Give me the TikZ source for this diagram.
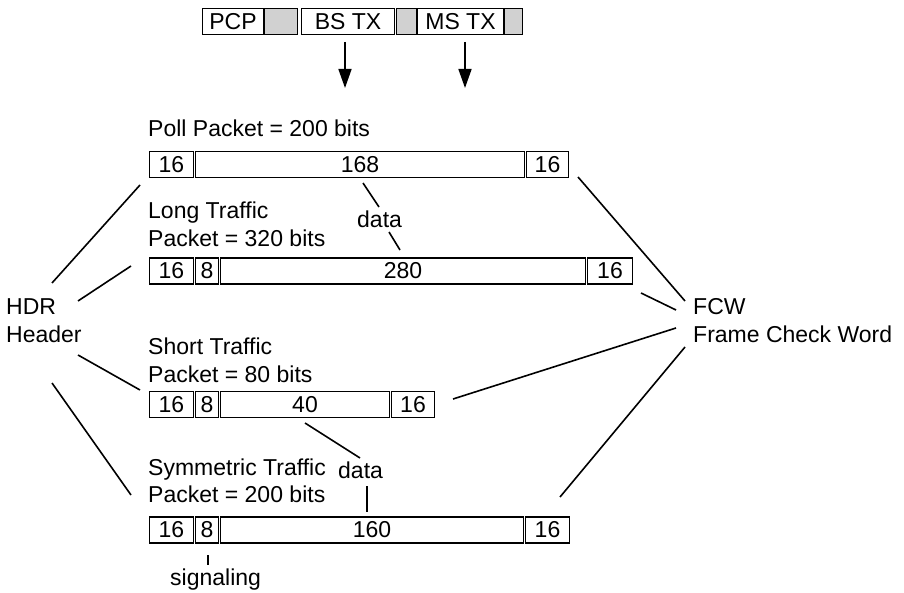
\documentclass[tikz,border=0pt]{standalone}
\usepackage{fontspec}
\setmainfont{Liberation Sans}
\usetikzlibrary{arrows.meta}
\begin{document}
\begin{tikzpicture}[x=1pt,y=-1pt,
  txt/.style={font=\fontsize{23}{27.5}\selectfont},
  cell/.style={draw, line width=1.5pt, inner sep=0pt, minimum height=26pt, txt},
  gcell/.style={cell, fill=black!18},
  lbl/.style={inner sep=0pt, anchor=base west, txt},
  conn/.style={line width=1.6pt},
  arr/.style={line width=1.6pt, -{Triangle[length=19pt,width=13pt]}},
  ]
\path[use as bounding box] (0,0) rectangle (904,593);

% top frame
\node[cell, minimum width=60.6pt] (pcp) at (233,21.5) {PCP};
\node[gcell, minimum width=32.6pt] (g1) at (281,21.5) {};
\node[cell, minimum width=92.6pt] (bstx) at (348,21.5) {BS TX};
\node[gcell, minimum width=19.6pt] (g2) at (406.5,21.5) {};
\node[cell, minimum width=85.6pt] (mstx) at (460.5,21.5) {MS TX};
\node[gcell, minimum width=17.6pt] (g3) at (513.5,21.5) {};
\coordinate (a1s) at (345,42); \coordinate (a1e) at (345,88);
\coordinate (a2s) at (465,42); \coordinate (a2e) at (465,88);
\draw[arr] (a1s) -- (a1e);
\draw[arr] (a2s) -- (a2e);

% Poll packet
\node[lbl] (pollL) at (148,137) {Poll Packet = 200 bits};
\node[cell, minimum width=43.6pt] (p1) at (171.5,164.5) {16};
\node[cell, minimum width=328.6pt] (p2) at (360,164.5) {168};
\node[cell, minimum width=41.6pt] (p3) at (547.5,164.5) {16};

% Long traffic
\node[lbl] (longL1) at (148,219) {Long Traffic};
\node[lbl] (longL2) at (148,247) {Packet = 320 bits};
\node[cell, minimum width=43.6pt] (l1) at (171.5,271) {16};
\node[cell, minimum width=22.6pt] (l2) at (207,271) {8};
\node[cell, minimum width=364.6pt] (l3) at (403,271) {280};
\node[cell, minimum width=44.6pt] (l4) at (610,271) {16};

% Short traffic
\node[lbl] (shortL1) at (148,354) {Short Traffic};
\node[lbl] (shortL2) at (148,382) {Packet = 80 bits};
\node[cell, minimum width=43.6pt] (s1) at (171.5,404.5) {16};
\node[cell, minimum width=22.6pt] (s2) at (207,404.5) {8};
\node[cell, minimum width=168.6pt] (s3) at (305,404.5) {40};
\node[cell, minimum width=42.6pt] (s4) at (413,404.5) {16};

% Symmetric traffic
\node[lbl] (symL1) at (148,475) {Symmetric Traffic};
\node[lbl] (symL2) at (148,502) {Packet = 200 bits};
\node[cell, minimum width=43.6pt] (y1) at (171.5,530) {16};
\node[cell, minimum width=22.6pt] (y2) at (207,530) {8};
\node[cell, minimum width=302.6pt] (y3) at (372,530) {160};
\node[cell, minimum width=43.6pt] (y4) at (547.5,530) {16};

% side labels
\node[lbl] (hdr1) at (6,315) {HDR};
\node[lbl] (hdr2) at (6,342) {Header};
\node[lbl] (fcw1) at (693,315) {FCW};
\node[lbl] (fcw2) at (693,342) {Frame Check Word};
\node[lbl] (data1) at (357,228) {data};
\node[lbl] (data2) at (338,478) {data};
\node[lbl] (sig) at (170,585) {signaling};

% HDR connectors
\coordinate (h1a) at (52,283);  \coordinate (h1b) at (140,185);
\coordinate (h2a) at (78,301);  \coordinate (h2b) at (131,266);
\coordinate (h3a) at (78,355);  \coordinate (h3b) at (140,390);
\coordinate (h4a) at (52,383);  \coordinate (h4b) at (131,495);
\draw[conn] (h1a) -- (h1b);
\draw[conn] (h2a) -- (h2b);
\draw[conn] (h3a) -- (h3b);
\draw[conn] (h4a) -- (h4b);

% FCW connectors
\coordinate (f1a) at (685,301); \coordinate (f1b) at (578,177);
\coordinate (f2a) at (676,310); \coordinate (f2b) at (641,293);
\coordinate (f3a) at (676,328); \coordinate (f3b) at (453,399);
\coordinate (f4a) at (685,347); \coordinate (f4b) at (560,497);
\draw[conn] (f1a) -- (f1b);
\draw[conn] (f2a) -- (f2b);
\draw[conn] (f3a) -- (f3b);
\draw[conn] (f4a) -- (f4b);

% data / signaling connectors
\coordinate (d1a) at (363,183); \coordinate (d1b) at (379,207);
\coordinate (d2a) at (389,232); \coordinate (d2b) at (400,250);
\coordinate (d3a) at (305,423); \coordinate (d3b) at (360,458);
\coordinate (d4a) at (367,486); \coordinate (d4b) at (367,512);
\coordinate (sga) at (208,555); \coordinate (sgb) at (208,565);
\draw[conn] (d1a) -- (d1b);
\draw[conn] (d2a) -- (d2b);
\draw[conn] (d3a) -- (d3b);
\draw[conn] (d4a) -- (d4b);
\draw[conn] (sga) -- (sgb);
\end{tikzpicture}
\end{document}
